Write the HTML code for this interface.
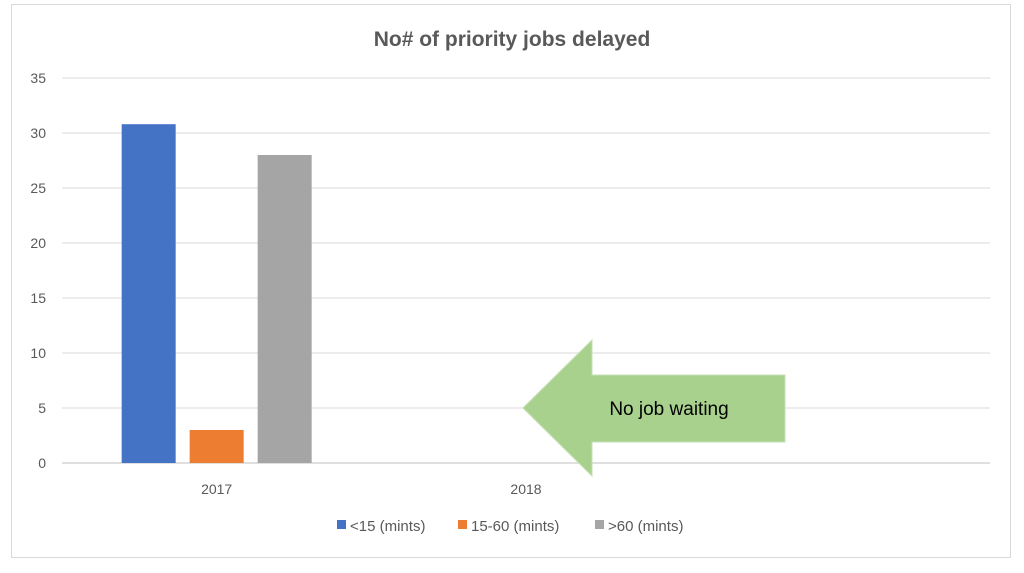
<!DOCTYPE html>
<html><head><meta charset="utf-8"><style>
body{margin:0;background:#fff;width:1024px;height:568px;overflow:hidden}
svg text{font-family:"Liberation Sans",sans-serif}
</style></head><body>
<svg width="1024" height="568">
<rect x="11.5" y="4.5" width="999" height="553" fill="#fff" stroke="#d9d9d9"/>
<text x="512" y="46" text-anchor="middle" font-size="21" font-weight="bold" fill="#595959">No# of priority jobs delayed</text>
<g id="grid"></g><g id="bars"></g><g id="xl"></g>
<g>
<polygon points="523,408 592,340 592,375 785,375 785,442 592,442 592,476" fill="#a9d18e" stroke="#c5e0b4" stroke-width="1"/>
<text x="669" y="415" text-anchor="middle" font-size="19" fill="#000">No job waiting</text>
</g>
<g font-size="15" fill="#595959">
<rect x="337" y="520" width="9" height="9" fill="#4472c4"/>
<text x="350" y="531">&lt;15 (mints)</text>
<rect x="458" y="520" width="9" height="9" fill="#ed7d31"/>
<text x="471" y="531">15-60 (mints)</text>
<rect x="595" y="520" width="9" height="9" fill="#a5a5a5"/>
<text x="608" y="531">&gt;60 (mints)</text>
</g>
</svg>
<script>
const categories=["2017","2018",""];
const seriesLt15=[30.8,0,0];
const series15to60=[3,0,0];
const seriesGt60=[28,0,0];
const yTicks=[0,5,10,15,20,25,30,35];
const colors=["#4472c4","#ed7d31","#a5a5a5"];
const seriesNames=["lt15","15-60","gt60"];
const ns="http://www.w3.org/2000/svg";
const L=62,R=990,Y0=463,Y35=78;
const y=v=>Y0-(v/35)*(Y0-Y35);
const band=(R-L)/categories.length;
const cx=i=>L+band*(i+0.5);
function mk(t,a,p){const e=document.createElementNS(ns,t);for(const k in a)e.setAttribute(k,a[k]);p.appendChild(e);return e;}
const g=document.getElementById('grid');
yTicks.forEach(t=>{
 const l=mk('line',{x1:L,x2:R,y1:y(t),y2:y(t),stroke:t===0?'#bfbfbf':'#d9d9d9','stroke-width':1},g);
 
 
 const tx=mk('text',{x:46,y:y(t)+5,'text-anchor':'end','font-size':14,fill:'#595959'},g);
 tx.textContent=t;
 
 
});
const b=document.getElementById('bars');
const all=[seriesLt15,series15to60,seriesGt60];
const bw=54,gap=14;
categories.forEach((c,i)=>{
 all.forEach((s,j)=>{
  if(s[i]<=0)return;
  const x=cx(i)-(3*bw+2*gap)/2+j*(bw+gap);
  const r=mk('rect',{x:x,y:y(s[i]),width:bw,height:Y0-y(s[i]),fill:colors[j]},b);
  
  
 });
 const t=mk('text',{x:cx(i),y:494,'text-anchor':'middle','font-size':14,fill:'#595959'},document.getElementById('xl'));
 t.textContent=c;
 
 
});
</script>
</body></html>
